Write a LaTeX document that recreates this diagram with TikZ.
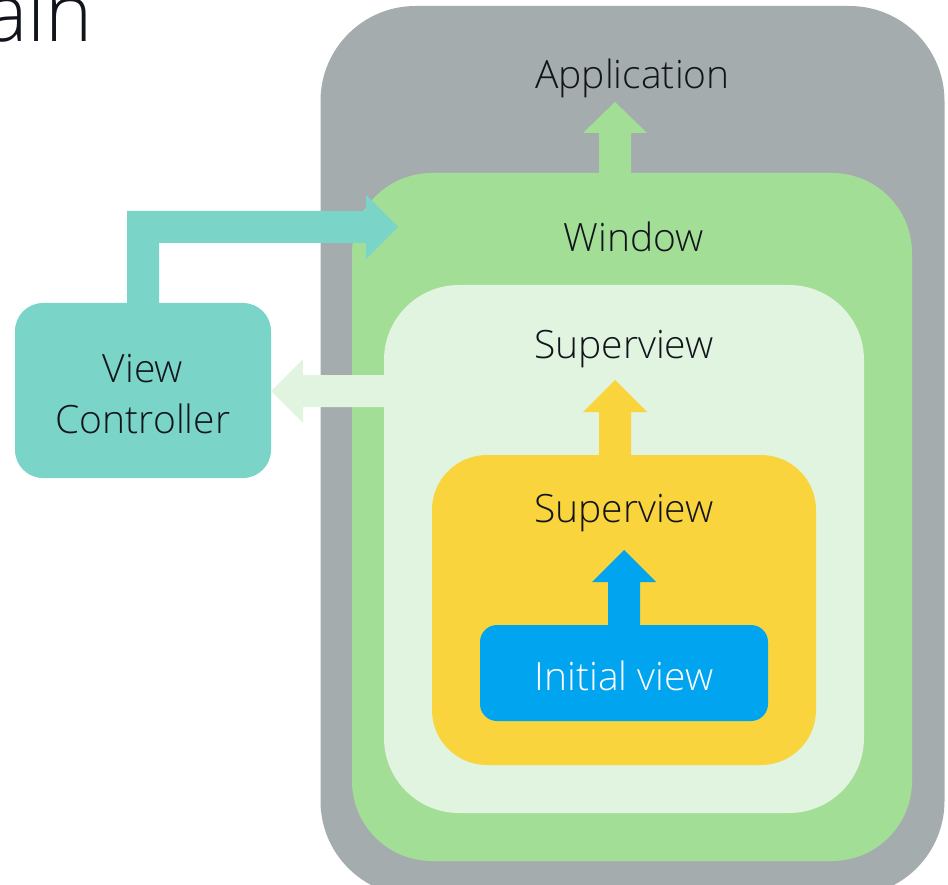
\documentclass[tikz,border=0pt]{standalone}
\usepackage{fontspec}
\IfFontExistsTF{Open Sans Light}{\setmainfont{Open Sans Light}}{\setmainfont{Open Sans}}
\definecolor{appgray}{HTML}{A4ACAD}
\definecolor{wingreen}{HTML}{A3DE97}
\definecolor{svlight}{HTML}{E1F4DF}
\definecolor{svyellow}{HTML}{F9D43C}
\definecolor{ivblue}{HTML}{00A4EF}
\definecolor{vcteal}{HTML}{7AD5C8}
\definecolor{inkdark}{HTML}{12141C}
\tikzset{
  box/.style={shape=rectangle, draw=none, inner sep=0pt, outer sep=0pt},
  lbl/.style={anchor=base, inner sep=0pt, text=inkdark, font=\fontsize{39}{44}\selectfont},
}
\begin{document}
\begin{tikzpicture}[x=1pt,y=-1pt]
\clip (0,0) rectangle (948,885);
% title fragment
\node[anchor=base east, inner sep=0pt, text=inkdark, font=\fontsize{80}{90}\selectfont] (title) at (93,42) {ain};
% application
\node[box, fill=appgray, rounded corners=95pt, minimum width=624pt, minimum height=890pt] (app) at (632.5,451) {};
% arrow window -> application
\fill[wingreen] (599,180) -- (599,133) -- (583,133) -- (615,102) -- (647,133) -- (631,133) -- (631,180) -- cycle;
% window
\node[box, fill=wingreen, rounded corners=80pt, minimum width=560pt, minimum height=688pt] (win) at (632,517) {};
% view controller
\node[box, fill=vcteal, rounded corners=28pt, minimum width=256pt, minimum height=175pt] (vc) at (143,390.5) {};
% arrow view controller -> window
\fill[vcteal] (127,305) -- (127,211) -- (366,211) -- (366,195) -- (398,227) -- (366,259) -- (366,243) -- (159,243) -- (159,305) -- cycle;
% superview (outer)
\node[box, fill=svlight, rounded corners=75pt, minimum width=480pt, minimum height=528pt] (sv1) at (624,549) {};
% arrow superview -> view controller
\fill[svlight] (390,375) -- (303,375) -- (303,359) -- (271,391) -- (303,423) -- (303,407) -- (390,407) -- cycle;
% superview (inner)
\node[box, fill=svyellow, rounded corners=55pt, minimum width=384pt, minimum height=310pt] (sv2) at (624,610) {};
% arrow superview -> superview
\fill[svyellow] (599,460) -- (599,412) -- (583,412) -- (615,380) -- (647,412) -- (631,412) -- (631,460) -- cycle;
% initial view
\node[box, fill=ivblue, rounded corners=17pt, minimum width=288pt, minimum height=96pt] (iv) at (624,673) {};
% arrow initial view -> superview
\fill[ivblue] (608,630) -- (608,582) -- (592,582) -- (624,550) -- (656,582) -- (640,582) -- (640,630) -- cycle;
% labels
\node[lbl] (tapp) at (632.5,89) {Application};
\node[lbl] (twin) at (633.5,252) {Window};
\node[lbl] (tsv1) at (624,359) {Superview};
\node[lbl] (tsv2) at (624,522) {Superview};
\node[lbl, text=white] (tiv) at (624,690) {Initial view};
\node[lbl] (tvc1) at (143,382) {View};
\node[lbl] (tvc2) at (143,433) {Controller};
\end{tikzpicture}
\end{document}
